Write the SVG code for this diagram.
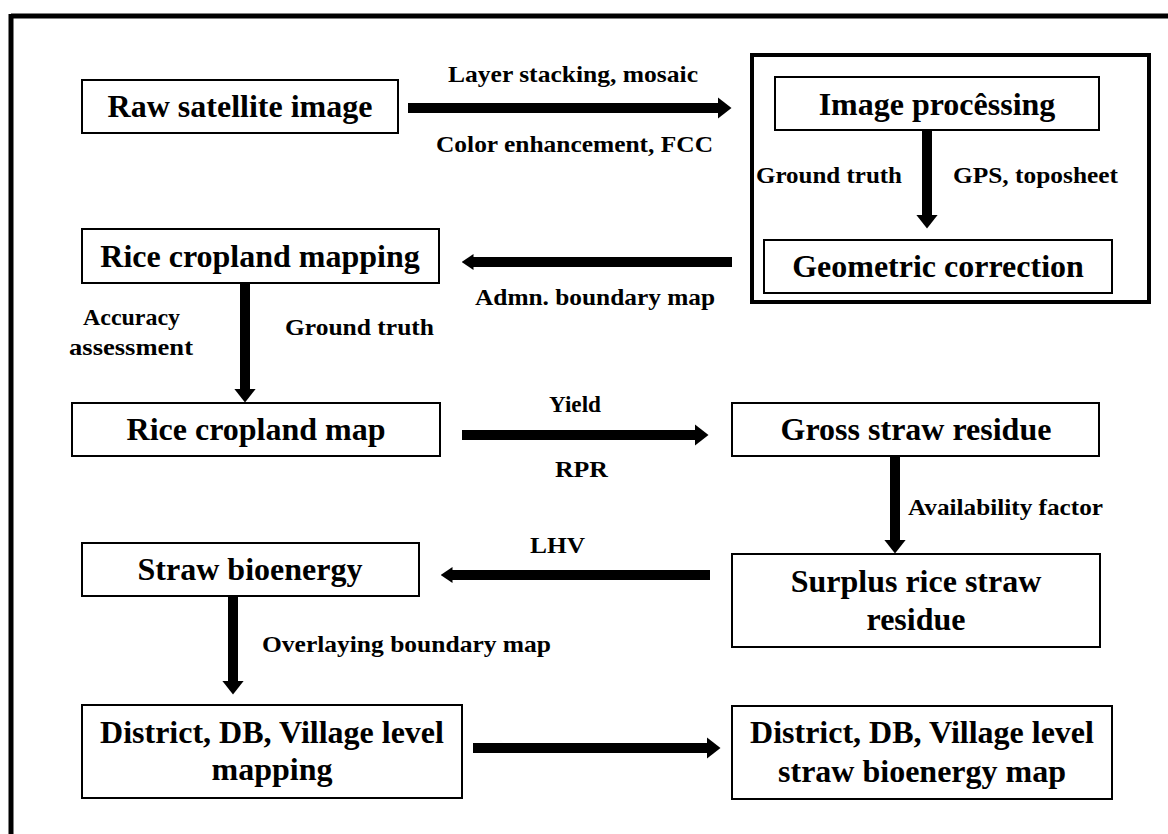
<svg xmlns="http://www.w3.org/2000/svg" width="1168" height="834" viewBox="0 0 1168 834">
<style>
.box{fill:#fff;stroke:#000;stroke-width:2}
.grp{fill:none;stroke:#000;stroke-width:4}
.nt{font-family:"Liberation Serif","Times New Roman",serif;font-weight:bold;font-size:32px;fill:#000;text-anchor:middle}
.lb{font-family:"Liberation Serif","Times New Roman",serif;font-weight:bold;font-size:24px;fill:#000}
.sh{stroke:#000;stroke-width:10;fill:none}
</style>
<defs>
<marker id="ah" markerUnits="userSpaceOnUse" markerWidth="14" markerHeight="22" viewBox="0 0 14 22" refX="0.5" refY="11" orient="auto">
<path d="M0,0 L14,11 L0,22 z" fill="#000"/>
</marker>
<marker id="ahs" markerUnits="userSpaceOnUse" markerWidth="12" markerHeight="16" viewBox="0 0 12 16" refX="0.5" refY="8" orient="auto">
<path d="M0,0 L12,8 L0,16 z" fill="#000"/>
</marker>
</defs>
<rect width="1168" height="834" fill="#fff"/>
<g id="frame">
<path d="M11,16 H1168 M11,14 V834" stroke="#000" stroke-width="5" fill="none"/>
</g>
<g id="group-image">
<rect class="grp" x="752" y="55" width="397" height="247"/>
</g>
<g id="n-raw"><rect class="box" x="82" y="80" width="316" height="53"/><text class="nt" x="240" y="117">Raw satellite image</text></g>
<g id="n-imgproc"><rect class="box" x="775" y="77" width="324" height="53"/><text class="nt" x="937" y="115">Image procêssing</text></g>
<g id="n-geo"><rect class="box" x="764" y="240" width="348" height="53"/><text class="nt" x="938" y="277">Geometric correction</text></g>
<g id="n-ricemapping"><rect class="box" x="82" y="229" width="357" height="54"/><text class="nt" x="260" y="267">Rice cropland mapping</text></g>
<g id="n-ricemap"><rect class="box" x="72" y="403" width="368" height="53"/><text class="nt" x="256" y="440">Rice cropland map</text></g>
<g id="n-gross"><rect class="box" x="732" y="403" width="367" height="53"/><text class="nt" x="916" y="440">Gross straw residue</text></g>
<g id="n-surplus"><rect class="box" x="732" y="554" width="368" height="93"/><text class="nt" x="916" y="592">Surplus rice straw</text><text class="nt" x="916" y="630">residue</text></g>
<g id="n-bioenergy"><rect class="box" x="82" y="543" width="337" height="53"/><text class="nt" x="250" y="580">Straw bioenergy</text></g>
<g id="n-distmapping"><rect class="box" x="82" y="705" width="380" height="93"/><text class="nt" x="272" y="743">District, DB, Village level</text><text class="nt" x="272" y="780">mapping</text></g>
<g id="n-distmap"><rect class="box" x="732" y="706" width="380" height="93"/><text class="nt" x="922" y="743">District, DB, Village level</text><text class="nt" x="922" y="782">straw bioenergy map</text></g>
<g id="connectors">
<line class="sh" x1="408" y1="108" x2="718" y2="108" marker-end="url(#ah)"/>
<line class="sh" x1="927" y1="130" x2="927" y2="215" stroke-width="11" marker-end="url(#ah)"/>
<line class="sh" x1="732" y1="262" x2="473" y2="262" marker-end="url(#ahs)"/>
<line class="sh" x1="245" y1="283" x2="245" y2="389" stroke-width="11" marker-end="url(#ah)"/>
<line class="sh" x1="462" y1="435" x2="695" y2="435" marker-end="url(#ah)"/>
<line class="sh" x1="895" y1="456" x2="895" y2="540" stroke-width="11" marker-end="url(#ah)"/>
<line class="sh" x1="710" y1="575" x2="452" y2="575" marker-end="url(#ahs)"/>
<line class="sh" x1="233" y1="596" x2="233" y2="681" stroke-width="11" marker-end="url(#ah)"/>
<line class="sh" x1="473" y1="748" x2="707" y2="748" marker-end="url(#ah)"/>
</g>
<g id="labels">
<text class="lb" x="448" y="82" textLength="250" lengthAdjust="spacingAndGlyphs">Layer stacking, mosaic</text>
<text class="lb" x="436" y="152" textLength="277" lengthAdjust="spacingAndGlyphs">Color enhancement, FCC</text>
<text class="lb" x="756" y="183" textLength="146" lengthAdjust="spacingAndGlyphs">Ground truth</text>
<text class="lb" x="953" y="183" textLength="165" lengthAdjust="spacingAndGlyphs">GPS, toposheet</text>
<text class="lb" x="475" y="305" textLength="240" lengthAdjust="spacingAndGlyphs">Admn. boundary map</text>
<text class="lb" x="83" y="325" textLength="97" lengthAdjust="spacingAndGlyphs">Accuracy</text>
<text class="lb" x="69" y="355" textLength="124" lengthAdjust="spacingAndGlyphs">assessment</text>
<text class="lb" x="285" y="335" textLength="149" lengthAdjust="spacingAndGlyphs">Ground truth</text>
<text class="lb" x="549" y="412" textLength="52" lengthAdjust="spacingAndGlyphs">Yield</text>
<text class="lb" x="555" y="477" textLength="53" lengthAdjust="spacingAndGlyphs">RPR</text>
<text class="lb" x="908" y="515" textLength="195" lengthAdjust="spacingAndGlyphs">Availability factor</text>
<text class="lb" x="530" y="553" textLength="55" lengthAdjust="spacingAndGlyphs">LHV</text>
<text class="lb" x="262" y="652" textLength="289" lengthAdjust="spacingAndGlyphs">Overlaying boundary map</text>
</g>
</svg>
